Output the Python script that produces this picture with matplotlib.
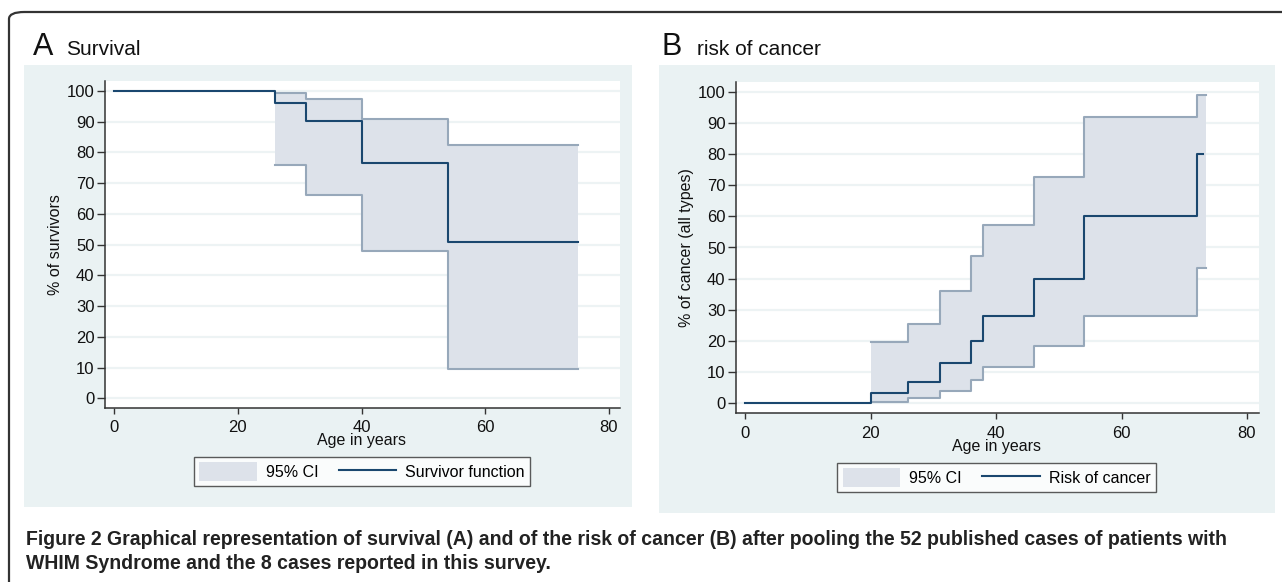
import matplotlib.pyplot as plt
from matplotlib.patches import Rectangle, FancyBboxPatch, Patch
from matplotlib.lines import Line2D

W = 1282
H = 582

# survival (panel A)
surv_t = [0, 26, 31, 40, 54, 75]
surv_s = [100, 96.1, 90.4, 76.5, 51.0, 51.0]
surv_ci_t = [26, 31, 40, 54, 75]
surv_hi = [99.4, 97.5, 90.9, 82.5, 82.5]
surv_lo = [75.8, 66.3, 47.8, 9.4, 9.4]

# risk of cancer (panel B)
canc_t = [0, 20, 26, 31, 36, 38, 46, 54, 72, 73]
canc_s = [0, 3.2, 6.9, 12.8, 20.0, 27.9, 40.0, 60.0, 80.0, 80.0]
canc_ci_t = [20, 26, 31, 36, 38, 46, 54, 72, 73.4]
canc_hi = [19.6, 25.3, 36.0, 47.3, 57.2, 72.7, 92.1, 99.0, 99.0]
canc_lo = [0.4, 1.7, 3.9, 7.4, 11.7, 18.2, 28.1, 43.4, 43.4]

yticks = [0, 10, 20, 30, 40, 50, 60, 70, 80, 90, 100]
xticks = [0, 20, 40, 60, 80]

NAVY = '#1a476f'
BAND = '#dde2ea'
BAND_EDGE = '#97a8ba'
BG = '#eaf2f3'
GRID = '#edf3f4'
FONT = 'Liberation Sans'

plt.rcParams['font.family'] = FONT


def fx(x):
    return x / W


def fy(y):
    return 1 - y / H


def box(x0, y0, x1, y1):
    return [fx(x0), fy(y1), (x1 - x0) / W, (y1 - y0) / H]


fig = plt.figure(figsize=(W / 100, H / 100), dpi=100)

# outer rounded frame
fig.patches.append(FancyBboxPatch((fx(9), fy(610)), (1320 - 9) / W, (610 - 12) / H,
                                  boxstyle='round,pad=0,rounding_size=0.012',
                                  transform=fig.transFigure, facecolor='none',
                                  edgecolor='#333333', linewidth=1.6, zorder=0))

panels = [
    dict(bg=(24, 65, 632, 507), ax=(105, 81, 620, 408), x0=114, x80=609, y100=91, y0=398.3,
         letter='A', lx=33, title='Survival', tx=66, ylabel='% of survivors', ylx=55,
         t=surv_t, s=surv_s, ct=surv_ci_t, hi=surv_hi, lo=surv_lo,
         xl_y=441, leg=(362, 471.5), name='Survivor function'),
    dict(bg=(659, 65, 1275, 513), ax=(736, 82, 1259, 413), x0=745, x80=1247, y100=92, y0=403,
         letter='B', lx=662, title='risk of cancer', tx=697, ylabel='% of cancer (all types)', ylx=686,
         t=canc_t, s=canc_s, ct=canc_ci_t, hi=canc_hi, lo=canc_lo,
         xl_y=447, leg=(996.5, 477.5), name='Risk of cancer'),
]

for p in panels:
    bx0, by0, bx1, by1 = p['bg']
    fig.patches.append(Rectangle((fx(bx0), fy(by1)), (bx1 - bx0) / W, (by1 - by0) / H,
                                 transform=fig.transFigure, facecolor=BG, edgecolor='none', zorder=0))
    ax0, ay0, ax1, ay1 = p['ax']
    ax = fig.add_axes(box(ax0, ay0, ax1, ay1))
    ax.set_zorder(3)
    ax.set_facecolor('white')
    xs = (p['x80'] - p['x0']) / 80
    ys = (p['y0'] - p['y100']) / 100
    ax.set_xlim((ax0 - p['x0']) / xs, (ax1 - p['x0']) / xs)
    ax.set_ylim(-(ay1 - p['y0']) / ys, 100 + (p['y100'] - ay0) / ys)

    for v in yticks:
        ax.axhline(v, color=GRID, linewidth=1.6, zorder=1)

    ax.fill_between(p['ct'], p['lo'], p['hi'], step='post', color=BAND, linewidth=0, zorder=2)
    ax.step(p['ct'], p['hi'], where='post', color=BAND_EDGE, linewidth=1.5, zorder=3)
    ax.step(p['ct'], p['lo'], where='post', color=BAND_EDGE, linewidth=1.5, zorder=3)
    ax.step(p['t'], p['s'], where='post', color=NAVY, linewidth=1.5, zorder=4)

    ax.set_xticks(xticks)
    ax.set_yticks(yticks)
    for side in ['top', 'right']:
        ax.spines[side].set_visible(False)
    for side in ['left', 'bottom']:
        ax.spines[side].set_color('#333333')
        ax.spines[side].set_linewidth(1.1)
    ax.tick_params(axis='x', length=4.5, width=1, color='#333333', pad=4.5, labelsize=12, labelcolor='#111111')
    ax.tick_params(axis='y', length=5.5, width=1, color='#333333', pad=2, labelsize=12, labelcolor='#111111')

    fig.text(fx((p['x0'] + p['x80']) / 2), fy(p['xl_y']), 'Age in years', ha='center', va='center',
             fontsize=11.5, color='#111111')
    fig.text(fx(p['ylx']), fy((p['y0'] + p['y100']) / 2), p['ylabel'], rotation=90,
             ha='center', va='center', fontsize=11.5, color='#111111')
    fig.text(fx(p['lx']), fy(55), p['letter'], fontsize=22, ha='left', va='baseline', color='#111111')
    fig.text(fx(p['tx']), fy(55), p['title'], fontsize=15, ha='left', va='baseline', color='#111111')

    handles = [Patch(facecolor=BAND, edgecolor='none'),
               Line2D([], [], color=NAVY, linewidth=1.5)]
    leg = fig.legend(handles, ['95% CI', p['name']], loc='center', ncol=2,
                     bbox_to_anchor=(fx(p['leg'][0]), fy(p['leg'][1])),
                     fontsize=11.5, frameon=True, fancybox=False, edgecolor='#333333',
                     handlelength=3.6, handleheight=1.4, handletextpad=0.55, columnspacing=1.3,
                     borderpad=0.35, borderaxespad=0)
    leg.get_frame().set_linewidth(1.0)
    leg.set_zorder(4)

# caption
fig.text(fx(26), fy(545), 'Figure 2 Graphical representation of survival (A) and of the risk of cancer (B) '
         'after pooling the 52 published cases of patients with',
         fontsize=14.05, ha='left', va='baseline', color='#222222', fontweight='bold')
fig.text(fx(26), fy(569), 'WHIM Syndrome and the 8 cases reported in this survey.',
         fontsize=14.05, ha='left', va='baseline', color='#222222', fontweight='bold')

fig.savefig('out.png', dpi=100)
